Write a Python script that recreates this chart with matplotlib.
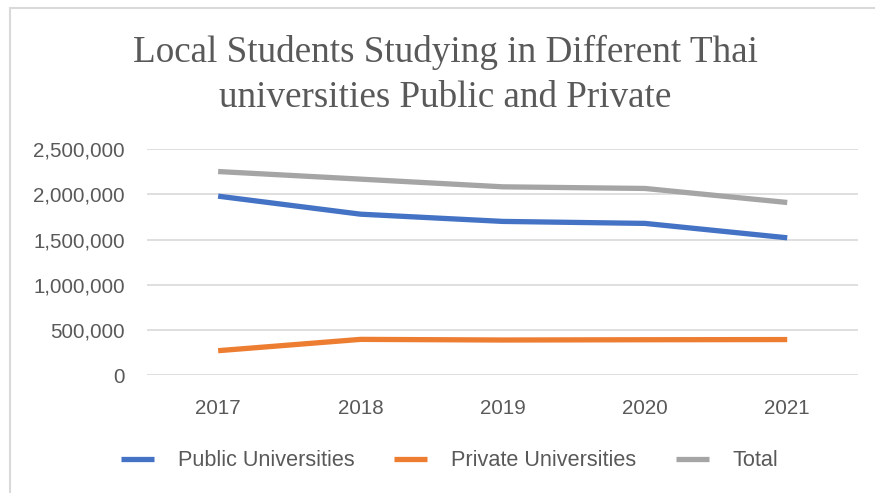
import matplotlib
matplotlib.use("Agg")
import matplotlib.pyplot as plt
from matplotlib.ticker import FuncFormatter
from matplotlib.patches import Rectangle

years = ["2017", "2018", "2019", "2020", "2021"]
public = [1979000, 1780000, 1700000, 1678000, 1519000]
private = [272000, 397000, 390000, 393000, 395000]
total = [2251000, 2167000, 2082000, 2064000, 1909000]
yticks = [0, 500000, 1000000, 1500000, 2000000, 2500000]

title = "Local Students Studying in Different Thai\nuniversities Public and Private"
text_color = "#595959"

fig = plt.figure(figsize=(8.75, 4.93), dpi=100)
ax = fig.add_axes([0.168, 0.2387, 0.813, 0.4591])

x = list(range(len(years)))
ax.plot(x, public, color="#4472C4", lw=3.8, label="Public Universities", solid_capstyle="butt")
ax.plot(x, private, color="#ED7D31", lw=3.8, label="Private Universities", solid_capstyle="butt")
ax.plot(x, total, color="#A5A5A5", lw=3.8, label="Total", solid_capstyle="butt")

ax.set_xlim(-0.5, len(years) - 0.5)
ax.set_ylim(0, 2500000)
ax.set_yticks(yticks)
ax.yaxis.set_major_formatter(FuncFormatter(lambda v, p: f"{int(v):,}"))
ax.set_xticks(x)
ax.set_xticklabels(years)
ax.grid(axis="y", color="#D9D9D9", lw=1.2)
ax.set_axisbelow(True)
for s in ax.spines.values():
    s.set_visible(False)
ax.tick_params(axis="both", length=0, labelsize=14.8, colors=text_color,
               labelfontfamily="Liberation Sans")
ax.tick_params(axis="y", pad=16)
ax.tick_params(axis="x", pad=17)

fig.text(0.509, 0.848, title, ha="center", va="center", fontsize=26.7,
         family="Liberation Serif", color=text_color, linespacing=1.4)

leg = fig.legend(loc="center", bbox_to_anchor=(0.514, 0.065), ncol=3, frameon=False,
                 prop={"family": "Liberation Sans", "size": 15.6},
                 handlelength=1.5, handletextpad=1.1, columnspacing=1.85)
for t in leg.get_texts():
    t.set_color(text_color)

fig.patches.append(Rectangle((10 / 875, -0.1), 1.2, 1 - 8 / 493 + 0.1,
                             transform=fig.transFigure, fill=False,
                             edgecolor="#D9D9D9", lw=1.5))

fig.savefig("out.png", dpi=100)
